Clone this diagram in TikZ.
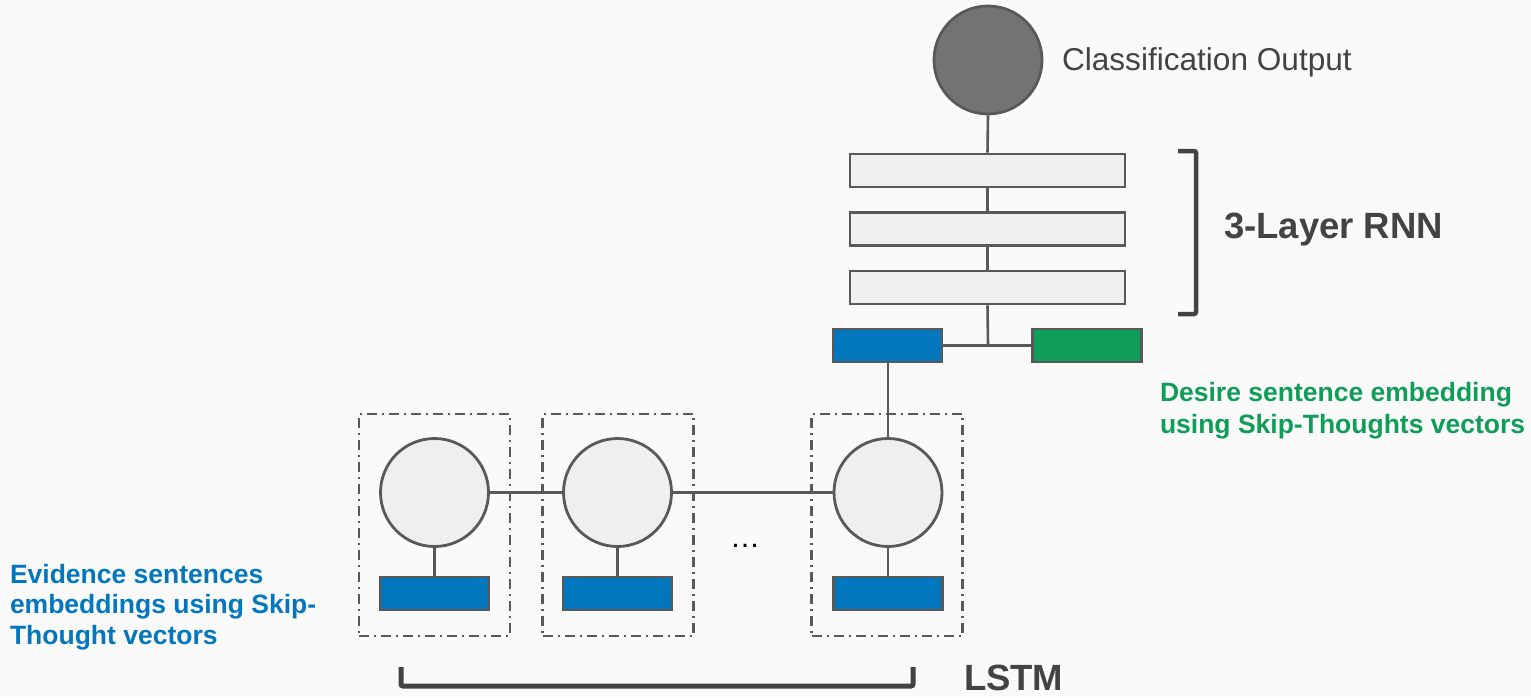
\documentclass[tikz,border=0pt]{standalone}
\usepackage{fontspec}
\setmainfont{Liberation Sans}
\definecolor{bg}{HTML}{FAFAFA}
\definecolor{edge}{HTML}{595959}
\definecolor{lightfill}{HTML}{EFEFEF}
\definecolor{darkfill}{HTML}{737373}
\definecolor{txt}{HTML}{434343}
\definecolor{myblue}{HTML}{0277BD}
\definecolor{mygreen}{HTML}{0F9D58}
\begin{document}
\begin{tikzpicture}[x=1pt,y=-1pt,
  bar/.style={draw=edge,line width=2.8pt,fill=lightfill,rectangle,inner sep=0pt,minimum width=275pt,minimum height=33pt},
  emb/.style={draw=edge,line width=2.8pt,rectangle,inner sep=0pt,minimum width=109pt,minimum height=33pt},
  cell/.style={draw=edge,line width=2.8pt,fill=lightfill,circle,inner sep=0pt,minimum size=108pt},
  frame/.style={draw=edge,line width=2.3pt,rectangle,inner sep=0pt,minimum width=151pt,minimum height=222pt,dash pattern=on 10pt off 5pt on 2pt off 5pt},
  conn/.style={draw=edge,line width=2.6pt},
  brk/.style={draw=txt,line width=4.5pt,rounded corners=2pt},
  lbl/.style={inner sep=0pt,outer sep=0pt}
]
\fill[bg] (0,0) rectangle (1531,697);
\useasboundingbox (0,0) rectangle (1531,697);

% output
\node[cell,fill=darkfill,minimum size=108pt] (out) at (988,60) {};
\node[lbl,anchor=base west,text=txt,font=\fontsize{31.6}{36}\selectfont] (outlbl) at (1062,70) {Classification Output};

% RNN layers
\node[bar] (r1) at (987.5,170.5) {};
\node[bar] (r2) at (987.5,229) {};
\node[bar] (r3) at (987.5,287.5) {};

% embeddings at top
\node[emb,fill=myblue] (ev) at (887.5,345.5) {};
\node[emb,fill=mygreen] (de) at (1087,345.5) {};
\coordinate (j) at (988,345.5);

% LSTM frames
\node[frame] (f1) at (434.5,525) {};
\node[frame] (f2) at (618,525) {};
\node[frame] (f3) at (887,525) {};

% LSTM cells
\node[cell] (c1) at (434.5,492.5) {};
\node[cell] (c2) at (617.5,492.5) {};
\node[cell] (c3) at (888,492.5) {};

% evidence embeddings
\node[emb,fill=myblue] (e1) at (434.5,593.5) {};
\node[emb,fill=myblue] (e2) at (617.5,593.5) {};
\node[emb,fill=myblue] (e3) at (888,593.5) {};

% connectors
\draw[conn] (out.south) -- (r1.north);
\draw[conn] (r1.south) -- (r2.north);
\draw[conn] (r2.south) -- (r3.north);
\draw[conn] (r3.south) -- (j);
\draw[conn] (ev.east) -- (de.west);
\draw[conn] (ev.south -| c3) -- (c3.north);
\draw[conn] (c1.east) -- (c2.west);
\draw[conn] (c2.east) -- (c3.west);
\draw[conn] (c1.south) -- (e1.north);
\draw[conn] (c2.south) -- (e2.north);
\draw[conn] (c3.south) -- (e3.north);

\node[lbl,font=\fontsize{30}{36}\selectfont] (dots) at (745,546) {…};

% brackets
\draw[brk] (1178,151) -- (1196,151) -- (1196,314) -- (1178,314);
\draw[brk,line width=5pt] (401,667) -- (401,686) -- (913,686) -- (913,667);

% labels
\node[lbl,anchor=base west,text=txt,font=\fontsize{36.5}{42}\selectfont\bfseries] (rnnlbl) at (1224,238) {3-Layer RNN};
\node[lbl,anchor=base west,text=txt,font=\fontsize{36.5}{42}\selectfont\bfseries] (lstmlbl) at (964,690) {LSTM};
\node[lbl,anchor=north west,align=left,text=mygreen,font=\fontsize{26.5}{32}\selectfont\bfseries] (glbl) at (1160,382) {Desire sentence embedding\\using Skip-Thoughts vectors};
\node[lbl,anchor=north west,align=left,text=myblue,font=\fontsize{26.5}{30.5}\selectfont\bfseries] (blbl) at (10,564) {Evidence sentences\\embeddings using Skip-\\Thought vectors};
\end{tikzpicture}
\end{document}
